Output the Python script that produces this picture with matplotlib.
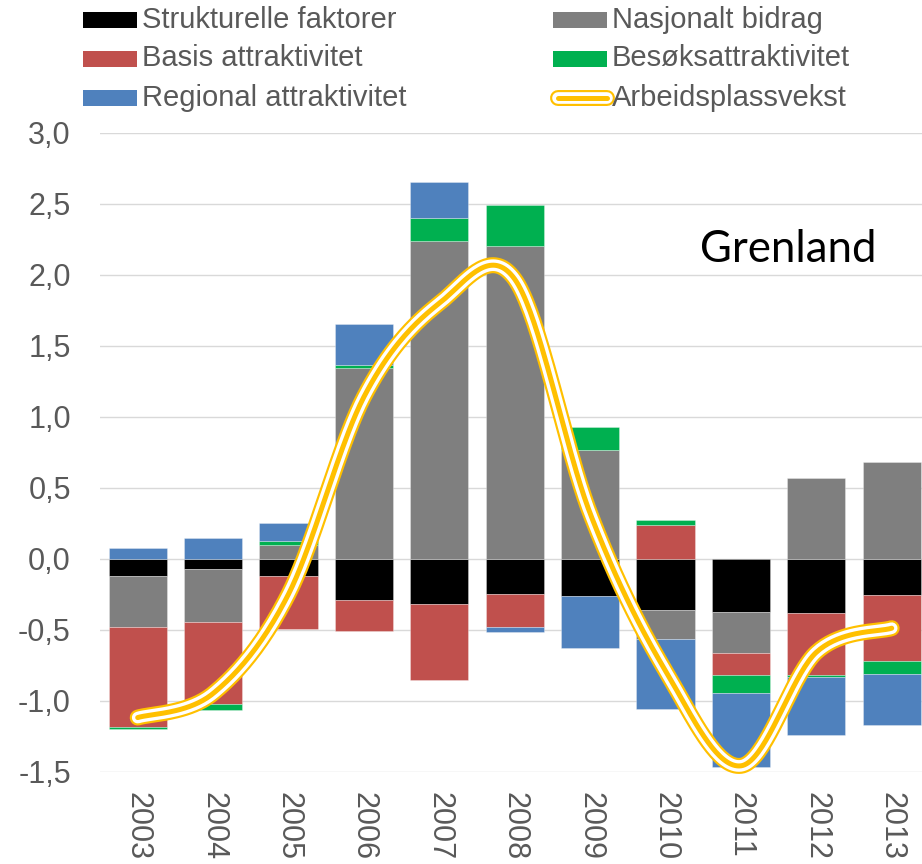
import matplotlib
matplotlib.use('Agg')
import matplotlib.pyplot as plt
import numpy as np
from matplotlib import font_manager
from matplotlib.patches import Rectangle
from matplotlib.lines import Line2D

# ---------------- data ----------------
years = ['2003', '2004', '2005', '2006', '2007', '2008', '2009', '2010', '2011', '2012', '2013']
strukturelle = [-0.12, -0.07, -0.12, -0.29, -0.32, -0.25, -0.265, -0.36, -0.375, -0.38, -0.255]
nasjonalt = [-0.36, -0.375, 0.096, 1.345, 2.242, 2.207, 0.763, -0.204, -0.292, 0.568, 0.679]
basis = [-0.705, -0.582, -0.378, -0.221, -0.533, -0.23, 0.0, 0.24, -0.15, -0.439, -0.469]
besok = [-0.015, -0.043, 0.028, 0.021, 0.158, 0.283, 0.165, 0.03, -0.129, -0.018, -0.09]
regional = [0.077, 0.147, 0.125, 0.288, 0.255, -0.04, -0.365, -0.493, -0.521, -0.405, -0.355]
arbeidsplassvekst = [-1.12, -0.95, -0.25, 1.14, 1.80, 1.97, 0.32, -0.79, -1.46, -0.66, -0.49]
yticks = [-1.5, -1.0, -0.5, 0.0, 0.5, 1.0, 1.5, 2.0, 2.5, 3.0]
ytick_labels = ['-1,5', '-1,0', '-0,5', '0,0', '0,5', '1,0', '1,5', '2,0', '2,5', '3,0']

labels = ['Strukturelle faktorer', 'Nasjonalt bidrag', 'Basis attraktivitet',
          'Besøksattraktivitet', 'Regional attraktivitet', 'Arbeidsplassvekst']
colors = ['#000000', '#7F7F7F', '#C0504D', '#00B050', '#4F81BD']
line_color = '#FFC000'
text_color = '#595959'

names = {f.name for f in font_manager.fontManager.ttflist}
base_font = 'Liberation Sans' if 'Liberation Sans' in names else 'DejaVu Sans'
title_font = 'Lato' if 'Lato' in names else base_font

W, H = 922, 864
fig = plt.figure(figsize=(W / 100, H / 100), dpi=100)
ax = fig.add_axes([100 / W, 1 - 771.5 / H, 1 - 100 / W, (771.5 - 133) / H])

x = np.arange(len(years))
pos_bottom = np.zeros(len(years))
neg_bottom = np.zeros(len(years))
for vals, c in zip([strukturelle, nasjonalt, basis, besok, regional], colors):
    v = np.array(vals, dtype=float)
    bottom = np.where(v >= 0, pos_bottom, neg_bottom)
    ax.bar(x, v, width=0.77, bottom=bottom, color=c,
           edgecolor=(1, 1, 1, 0.35), linewidth=0.6, zorder=2)
    pos_bottom += np.where(v > 0, v, 0)
    neg_bottom += np.where(v < 0, v, 0)


def smooth(xv, yv, n=40):
    P = np.column_stack([xv, yv]).astype(float)
    Pe = np.vstack([P[0], P, P[-1]])
    out = []
    for i in range(len(P) - 1):
        p0, p1, p2, p3 = Pe[i], Pe[i + 1], Pe[i + 2], Pe[i + 3]
        c1 = p1 + (p2 - p0) / 6.0
        c2 = p2 - (p3 - p1) / 6.0
        t = np.linspace(0, 1, n)[:, None]
        seg = ((1 - t) ** 3) * p1 + 3 * ((1 - t) ** 2) * t * c1 + 3 * (1 - t) * t ** 2 * c2 + t ** 3 * p2
        out.append(seg if i == 0 else seg[1:])
    s = np.vstack(out)
    return s[:, 0], s[:, 1]


LW = [(11.5, line_color), (8.4, 'white'), (3.6, line_color)]
sx, sy = smooth(x, arbeidsplassvekst)
for k, (lw, c) in enumerate(LW):
    ax.plot(sx, sy, color=c, lw=lw, solid_capstyle='round', zorder=5 + k, clip_on=False)

ax.set_ylim(-1.5, 3.0)
ax.set_xlim(-0.5, -0.5 + 822 / 75.4)
ax.set_yticks(yticks)
ax.set_yticklabels(ytick_labels)
ax.set_xticks(x)
ax.set_xticklabels(years, rotation=270, va='top', ha='center')
ax.tick_params(axis='y', length=0, pad=21, labelsize=22, labelcolor=text_color)
ax.tick_params(axis='x', length=0, pad=15, labelsize=22, labelcolor=text_color)
for lab in ax.get_xticklabels() + ax.get_yticklabels():
    lab.set_fontfamily(base_font)
for s in ax.spines.values():
    s.set_visible(False)
ax.yaxis.grid(True, color='#D9D9D9', lw=1.0, zorder=0)
ax.set_axisbelow(True)

ax.text(700 / W, 1 - 262 / H, 'Grenland', transform=fig.transFigure, fontsize=31.5,
        family=title_font, color='black', ha='left', va='baseline')

# ---------------- legend (manual) ----------------
rows = [19.5, 58.5, 98]
col_sw = [83, 553]
col_tx = [142, 612]
sw_w = 54
items = [(0, 0, 0), (1, 1, 0), (2, 0, 1), (3, 1, 1), (4, 0, 2), (5, 1, 2)]
for idx, col, row in items:
    yc = 1 - rows[row] / H
    if idx < 5:
        fig.patches.append(Rectangle((col_sw[col] / W, yc - 8 / H), sw_w / W, 16 / H,
                                     transform=fig.transFigure, facecolor=colors[idx],
                                     edgecolor='none'))
    else:
        xs = [(col_sw[col] + 5) / W, (col_sw[col] + sw_w) / W]
        for lw, c in LW:
            fig.lines.append(Line2D(xs, [yc, yc], transform=fig.transFigure, color=c, lw=lw,
                                    solid_capstyle='round'))
    fig.text(col_tx[col] / W, yc, labels[idx], fontsize=21, family=base_font,
             color=text_color, ha='left', va='center')

fig.savefig('out.png', dpi=100)
